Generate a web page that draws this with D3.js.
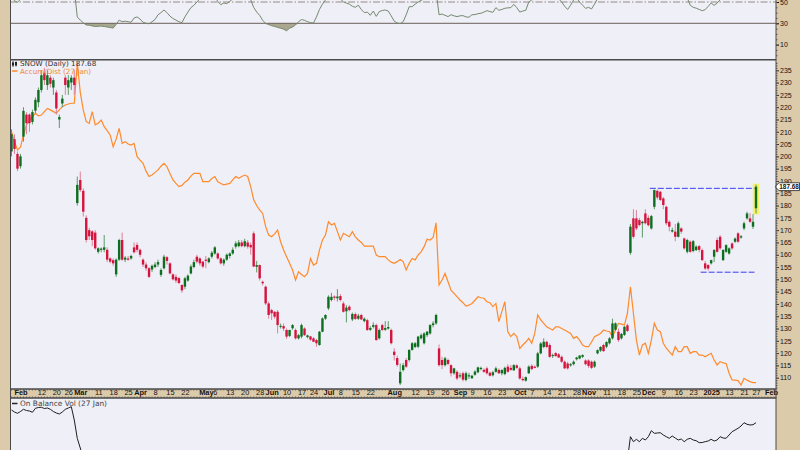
<!DOCTYPE html>
<html><head><meta charset="utf-8">
<script src="https://cdn.jsdelivr.net/npm/d3@7/dist/d3.min.js"></script>
<style>
body{margin:0;background:#fff;}
svg{display:block;font-family:"DejaVu Sans",Verdana,sans-serif;}
</style></head><body>
<svg id="chart" width="800" height="450"></svg>
<script>
// ---------------- DATA ----------------
const firstDay = "2024-01-29";
const lastAxisDay = "2025-02-10";
const holidays = ["2024-02-19","2024-03-29","2024-05-27","2024-06-19","2024-07-04","2024-09-02",
  "2024-11-28","2024-12-25","2025-01-01","2025-01-09","2025-01-20"];

// daily OHLC, one entry per trading day from 2024-01-29 to 2025-01-27
const open = [
202,207,201,196,208,217,217,214,218.6,222,
227,234,229,232,228,226,215,221.5,232,228,
230,232,181,190.4,186,175,170,169.5,169,161.2,
162,162,162,158.5,157.8,152,158,166,158,158.5,
158.5,163,164,162,158,156,154.5,154,155,156,
151.8,154.5,159,156.5,152,151,150.5,147.7,147,149.5,
152.4,155,159.2,158.5,157.2,158,157,159.2,160.5,160.5,
158.5,156.5,158,159.5,160.5,163.3,163.5,165,163.5,165,
164,168.7,155.1,155.8,149,147,140.2,137.5,136.8,136.8,
130.8,131,129.4,127,130.1,129.4,126,126.7,130,126.5,
126.8,126,125.3,123.3,128.7,134,138.2,141.6,143,142.3,
143.2,140.2,137,138.9,133.7,135.9,134,135.5,133,133.4,
129.5,130.7,131.4,126,131.4,129.5,130,129.4,120.6,118,
107.7,113.1,117.2,117.2,121.3,122.5,122.6,126,124,127.3,
128,131.4,132.1,121.9,117.2,115.1,117.2,115.1,111.8,112.4,
110.5,111.8,109.1,110.5,109.8,111.2,112.2,113.5,113.2,113.8,
112,111,112.4,113.2,111.8,111.5,114.5,114,113,115,
113.8,109.5,108.8,111.8,114.8,114.5,114.5,119.9,122.5,124.6,
123.3,118.8,120,119.5,118.5,116.5,115.8,115,115.5,117.5,
117.8,118.5,117,117,116.5,114.5,119.9,121,123.3,122.6,
124,126,129.5,128.7,126,127.4,131.3,160.8,174.8,174.8,
174.1,172.8,176.8,175,170.7,179.5,186,185.6,182.9,179.5,
173.4,169.4,169.4,167.3,170.7,166.6,161.2,165.3,161.5,161.9,
163.5,161.9,156.5,155.8,156.5,159.2,166,167.3,157.8,161.2,
160.5,164.6,165.3,168.7,167,170.7,174.8,174.8,171.4,178.9];
const high = [
211,209,202,201,220,218,217.5,219,224,228,
235,236,235,233,232,227,217,225,233,233,
233,235,191.8,193.8,187,176,171,170,170,163,
163,168,163,159,158.5,158.5,166.5,169,159.5,159.5,
160,165,165,162.5,158.5,157,155,156,157,158,
154.5,160,159.5,157,152.5,152,151,148,151,152,
156,158,160,159,157.5,159.5,159,161.5,163.5,161,
159,158.5,160.5,161,163,165.5,166,166,166.5,166,
165,169.5,157.5,156,149.5,147.5,141,138,137,137.5,
132,132,130,129.5,131.8,130,127.8,132,130.5,127.5,
127,126.5,125.8,129,134.5,135.8,143.5,144.5,143.5,146,
144,141,139.5,139.5,136.5,136.5,136,136,134.5,134,
131,132.5,132,130,132,133,133,130,122,119,
115.8,116,118,121.5,124.5,124.5,127,128,128.5,129,
131.8,133,136,123.5,118.5,118.5,117.8,115.5,114,113,
112,112.5,112.5,112,111.2,113,114.5,114.5,113.8,114.5,
112.5,112.8,114.5,113.8,113.5,114.5,115.5,115.2,115.5,115.5,
114.5,110.5,110.5,115,115.5,115,120.5,124.5,126,125,
124,119.8,120.5,120,119,117,116.5,116,117,118.5,
119.2,119.5,117.5,117.5,117,117,121.5,122.8,123.8,124.8,
126.5,134,132.5,130,128.2,131,132,172.5,178.5,178.2,
175,173.8,178.5,176,176.2,186.5,186.5,186,183.5,180,
174,171,172.5,173.5,171.2,167,166.5,165.8,166,163.8,
164,162.5,157.5,156.2,158,162.3,167,168,162.3,164.3,
163,165,167,169.2,168,173.5,177.5,177,176.5,188.5];
const low = [
200,201,194,195,206,209,210,213,217.5,220,
226,229,227,228,225,217,211.5,220,225,225,
227,225,180,185.5,175.5,165,166,163.5,162,160.5,
161,161,157,156.5,155.5,151,157.5,157.5,157,157.5,
158,160.5,161,159,155,153.5,150.5,153,154.5,155,
151,154,156,152,149.5,148.5,148,144.5,146,149,
152,154.5,156.5,155.5,154.5,154.5,156.5,158.5,160,158,
156,155.5,157.5,158.5,160,162.5,163,163,163,162.5,
160,155,152.8,149.5,147.5,139.5,134,133.5,134,128,
130,129,125.8,126.5,129.5,125.5,125.5,126,127,126,
125,124.5,122.6,123,128.5,133.5,137.5,141,141.5,141,
141,136.5,132.5,137,133,133.5,133.5,133.5,132.5,129,
129,130,125,125.5,129,129,129.5,123.5,117,114.5,
107,112.5,114,116.5,121,122,122,125.5,123.5,126.5,
127.5,130.5,131.5,114.5,113.5,114.5,115,110.5,111.2,109,
109.8,108.5,108.5,109.5,109.5,110.8,111.8,113,112,111.2,
110.5,110.5,112,111.5,111,111,112,112.8,112.8,113.5,
109.2,108.5,108.4,111.5,113,113.8,114,119.5,122,122,
118,118,118.5,118,116,113.5,113.3,114.5,115,117,
117.5,118,115,114,113.5,114,119.5,120.5,120.5,122,
123.5,125.5,129,124.5,125.5,127,128.5,160,166.6,170,
171.5,167,172.3,171.5,170.2,178.5,182.5,181.8,178.5,172,
169.5,169,165.5,167,168.5,162,160.5,160.8,161,161.5,
161,157.5,153.8,153.5,156,157,160.8,162,157.5,160.8,
160,162,164.8,164.8,166.5,170,174.3,173,170.5,176.8];
const close = [
209,203,195,200,218.5,213.5,213.5,218,223,227,
233,231,233,229.5,231,219.5,216,223.5,229,231,
232,229,188.4,186.3,177.5,166,167.5,166,162.6,162.6,
162.5,163,158,157.2,156.5,158,166,158,158.8,158,
159.5,161,162,160,156,154.5,151,155.5,156,157,
153.8,159.2,157.5,152.4,150,149.5,148.5,145.5,150.4,151.5,
155.2,157,157.2,156.5,155.2,157.5,158.5,160.8,163,158.5,
156.5,158,160,160.5,162,164.6,165,163.5,165.5,163.3,
163,155.2,155.8,150.4,148.4,140.2,135.5,136.2,134.8,131.4,
131.1,130,126.7,129.4,131.4,126,127.3,131.4,127.3,127.2,
125.5,124.6,124,128.7,134.1,135.5,142.9,142.9,142.5,143,
141.6,136.8,138.5,137.5,135.9,133.9,135.2,133.7,134,129.4,
130.2,131.4,125.3,129.4,129.4,130.2,130.6,124,119.2,115.2,
112.4,115.1,114.5,121.3,124,124,126.7,127.3,128,128.7,
131.4,132.1,135.5,115.1,115.1,117.9,115.6,111.8,113.8,109.7,
111,109.2,111.8,111,110.8,112.5,114.2,114,112.4,111.8,
110.8,112.2,113.8,111.8,113.1,114,112.4,113.2,115.1,114,
109.7,109,110.2,114.5,113.5,114,119.9,123.9,124.6,122.5,
118.5,119.2,118.8,118.2,116.5,113.8,113.8,115.5,116.5,118.2,
119,119.2,115.5,114.8,114,116.5,121.2,122.5,120.8,124.5,
126,132.1,132.1,125.3,127.8,130.7,129,171.4,167.3,170.7,
172.1,173.4,172.8,172,175.7,186.3,183.3,182.3,180.2,172.8,
171.4,170,167.3,172.8,169.4,162.6,166,161.2,165.5,163.3,
162,157.8,154.4,154.4,157.8,161.9,161.2,162.6,161.9,163.9,
162.6,162.6,166.6,165.3,167.5,172.8,176.8,173.4,173.4,187.68];

// Accumulation/Distribution overlay (in price-panel units), one per trading day
const adLine = [
210,206,202.6,203.7,208.7,212.8,214.5,216.2,217.5,216.5,
216.8,218.2,219.5,218.9,218.2,217.5,218.9,220.2,220.9,221.3,
221.6,221.6,238,226,218.9,214.1,213.4,218.2,212.8,213.5,
214.8,212.1,210.5,208.7,203.9,207,211.4,205.3,206,205,
204.6,205.3,199.9,198.5,197.2,194,191.8,192.4,193.5,194.5,
196,197.2,195.8,193,190.4,189,187.7,188.2,189.5,190.4,
192,193.1,193.1,193.1,189.7,189.7,189.7,191,191.8,189.7,
189,188.4,188.7,189,190.4,191.8,191.1,191.8,192.4,191.8,
187.7,182.3,180,178.2,176.8,171.4,168,167.3,168.5,170,
165.3,161.9,159.2,156.5,153.8,149.7,153.1,152,151.1,152.4,
158.5,155.8,156.5,161.9,166,168,173.4,172.1,172.8,169.4,
166,168.7,168,167.3,169.4,167.3,166,165,163.5,163.5,
163.5,163.5,159.9,159.2,159.2,159.2,157.9,157,156.5,157.2,
158.1,157.2,153.8,156.5,158.5,157.9,159.9,161.2,163.3,166.3,
166,167,173,147.7,149.7,152.4,149,145.6,144.3,143,
141.6,140.5,139.1,139.5,140.2,141.5,142.9,142.5,142.3,140.9,
140.5,138.9,140.2,132.8,136.9,140.9,128.7,126.7,128,126.7,
121.9,123.3,124.5,126,124,128,135.5,133.5,132.1,130.7,
130,129.4,130.7,130.7,130,129.4,128.7,128,126,126.7,
125.3,123.3,122.6,122.6,124.5,126.7,127.3,128,129.4,129,
128.7,126.7,129.4,132.1,131.8,131.4,136.2,147,136.2,125.3,
119.2,123.3,124,119.9,125.3,132.1,129.4,128.7,124,122,
120.6,119.2,122.6,120.6,120.6,122.6,122.6,119.9,120.6,120.6,
119.2,119.2,118.5,119.2,119.9,117.2,115.2,116.5,116,115.8,
111.8,109.1,109,108.8,107,109.7,109,108.4,108,108];

// RSI(14), one per trading day
const rsi = [
56,51,49.8,52.5,62,57,57,60,64,67,
70,68,70,66,67,57,55,60,64,65,
66,62,36,33,30.5,28.4,28.2,27.5,27,27.2,
27.4,27,26.5,26,25.5,29,33,31.5,32,31.5,
31,35,36,34,31,30,29.5,31.5,33.5,38,
40,42.5,40,36.8,34.5,33,31.5,30.6,36,40.6,
44.7,46.9,50,53,55,56,57,53,55,50.5,
47.5,49,48.5,50.5,53,56,58,56,58,56,
52,45,40.6,37.5,32.8,29.8,28.8,27.8,27,26.2,
25.4,24.5,23,25.4,26.5,28.5,31.5,33.5,32.8,31.5,
30.7,30.2,36,43,48,52,58,60,58,57,
53,50,49,48,46,45,47,43,40,40.5,
37.5,41.5,36.5,41,42,42.5,41.5,37,32,30.3,
29.7,31.5,38,45.6,45.6,48,50,51.5,53,55,
57,58,60,38,38.7,37.5,36.3,38.1,37,36.3,
37,37.2,36,35.7,38,38.2,39,39.4,40.5,41.9,
41,40.3,44.7,42.2,43,44.1,44.5,44.7,47.8,44.7,
40.6,41.5,42.2,50,52,53,58,62,62,58,
54,55,54,53,50,46,43,47,52,54,
50,47,44,45,43.5,48,53,56,54,57,
59,64,64,56,58,61,59,78,72,73,
73,73,72,72,74,80,77,76,73,64,
62,61,58,62,59,55,54,47,45,44.2,
43,41.8,42.8,45.9,49,46.9,49,52,55,54,
54,53,56,55,57,60,63,60,60,70];

// On Balance Volume (panel units): visible runs only (2024-01-29..2024-03-04 and 2024-11-20..2025-01-27)
const obvStart = [40,38,36.7,38.5,40.7,39.5,39,37.7,41.7,42.5,
  42.7,41.5,42,40.7,38.5,37,36,38,40.7,42,
  43.3,30,11.7,2,-8];
const obvEndFirstDay = "2024-11-20";
const obvEnd = [-10,13.3,8.3,10.7,
  8.3,11.7,10,13.3,19.3,16.7,17,17.3,15,13.3,
  11.7,14,12,10,11,8.3,10.7,11.7,10,9.3,
  7.3,7.5,8.3,9,10.7,9,10,13.3,12,11.7,
  15,18.3,20,21.7,24,27.3,25.7,25,25.3,27.3];

const priceTicks = [110,115,120,125,130,135,140,145,150,155,160,165,170,175,180,185,190,195,200,205,210,215,220,225,230,235];
const rsiTicks = [10,30,50];
const dateTickDates = ["2024-02-01","2024-02-12","2024-02-20","2024-02-26","2024-03-01","2024-03-11","2024-03-18","2024-03-25",
 "2024-04-01","2024-04-08","2024-04-15","2024-04-22","2024-05-01","2024-05-06","2024-05-13","2024-05-20","2024-05-28",
 "2024-06-03","2024-06-10","2024-06-17","2024-06-24","2024-07-01","2024-07-08","2024-07-15","2024-07-22",
 "2024-08-01","2024-08-12","2024-08-19","2024-08-26","2024-09-03","2024-09-09","2024-09-16","2024-09-23",
 "2024-10-01","2024-10-07","2024-10-14","2024-10-21","2024-10-28","2024-11-01","2024-11-11","2024-11-18","2024-11-25",
 "2024-12-02","2024-12-09","2024-12-16","2024-12-23","2025-01-02","2025-01-13","2025-01-21","2025-01-27","2025-02-03"];
const dateTickLabels = ["Feb","12","20","26","Mar","11","18","25","Apr","8","15","22","May","6","13","20","28",
 "Jun","10","17","24","Jul","8","15","22","Aug","12","19","26","Sep","9","16","23",
 "Oct","7","14","21","28","Nov","11","18","25","Dec","9","16","23","2025","13","21","27","Feb"];

const levelValues = [187.0, 152.9];
const levelFrom = ["2024-12-03","2024-12-27"];
const levelTo = ["2025-01-24","2025-01-24"];

const symbolLabel = "SNOW (Daily) 187.68";
const adLabel = "Accum/Dist (27 Jan)";
const obvLabel = "On Balance Vol (27 Jan)";
const lastPriceLabel = "187.68";

// ---------------- CALENDAR ----------------
const hset = new Set(holidays);
const days = [];
for (let d = new Date(firstDay+"T00:00:00Z"); d <= new Date(lastAxisDay+"T00:00:00Z"); d.setUTCDate(d.getUTCDate()+1)) {
  const w = d.getUTCDay(), s = d.toISOString().slice(0,10);
  if (w > 0 && w < 6 && !hset.has(s)) days.push(s);
}
const dayIdx = new Map(days.map((s,i)=>[s,i]));

// ---------------- LAYOUT ----------------
const W=800, H=450, L=10.5, R=776;
const TAN="#dccbab", BG="#efeff7", BORDER="#4a4a4a";
const svg = d3.select("#chart");
const x = d3.scaleLinear().domain([0, close.length-1]).range([11.5, 756]);
const y = d3.scaleLinear().domain([110,235]).range([377.7,70.3]);
const yr = d3.scaleLinear().domain([30,50]).range([23.3,2]);
const yo = d3.scaleLinear().domain([0,52]).range([450,398]);

svg.append("rect").attr("width",W).attr("height",H).attr("fill",TAN);
const panels = [["rsiClip",-5,59.5],["mainClip",60,389],["obvClip",398,455]];
const defs = svg.append("defs");
panels.forEach(([id,a,b])=>{
  svg.append("rect").attr("x",L).attr("y",a).attr("width",R-L).attr("height",b-a).attr("fill",BG);
  defs.append("clipPath").attr("id",id).append("rect").attr("x",L).attr("y",a).attr("width",R-L).attr("height",b-a);
});

// ---------------- RSI PANEL ----------------
const gR = svg.append("g").attr("clip-path","url(#rsiClip)");
gR.append("path").datum(rsi)
  .attr("d", d3.area().x((d,i)=>x(i)).y0(yr(30)).y1(d=>yr(Math.min(d,30))))
  .attr("fill","#aba68f");
gR.append("line").attr("x1",L).attr("x2",R).attr("y1",yr(50)).attr("y2",yr(50))
  .attr("stroke","#8e8075").attr("stroke-width",0.9).attr("stroke-dasharray","7,2,1.5,2");
gR.append("line").attr("x1",L).attr("x2",R).attr("y1",yr(30)).attr("y2",yr(30))
  .attr("stroke","#6b605a").attr("stroke-width",1);
gR.append("path").datum(rsi).attr("d", d3.line().x((d,i)=>x(i)).y(d=>yr(d)))
  .attr("fill","none").attr("stroke","#75896f").attr("stroke-width",1);

// ---------------- MAIN PANEL ----------------
const gM = svg.append("g").attr("clip-path","url(#mainClip)");
gM.append("path").datum(adLine).attr("d", d3.line().x((d,i)=>x(i)).y(d=>y(d)))
  .attr("fill","none").attr("stroke","#ff8a2a").attr("stroke-width",1.2);

// highlight of last bar
const lastK = close.length-1;
gM.append("rect").attr("x",x(lastK)-3.2).attr("width",6.4)
  .attr("y",y(high[lastK])-1).attr("height",y(low[lastK])-y(high[lastK])+2)
  .attr("fill","#f5f25a").attr("opacity",0.9);

// levels
levelValues.forEach((v,j)=>{
  gM.append("line").attr("x1",x(dayIdx.get(levelFrom[j]))-1.5).attr("x2",x(dayIdx.get(levelTo[j]))+1.5)
    .attr("y1",y(v)).attr("y2",y(v)).attr("stroke","#3c3cf0").attr("stroke-width",1)
    .attr("stroke-dasharray","6,2");
});

const GREEN="#0d6e1f", RED="#d5143e";
const candles = gM.append("g");
close.forEach((c,k)=>{
  const o=open[k], up = c>=o, col = up?GREEN:RED;
  candles.append("line").attr("x1",x(k)).attr("x2",x(k)).attr("y1",y(high[k])).attr("y2",y(low[k]))
    .attr("stroke", up?"#5c9a64":"#e0809a").attr("stroke-width",1);
  const top=y(Math.max(o,c)), bot=y(Math.min(o,c));
  candles.append("rect").attr("x",x(k)-1.2).attr("width",2.4).attr("y",top).attr("height",Math.max(1,bot-top))
    .attr("fill",col);
});

// legend
const lg = svg.append("g");
lg.append("line").attr("x1",13).attr("x2",13).attr("y1",61).attr("y2",67).attr("stroke","#222").attr("stroke-width",0.8);
lg.append("rect").attr("x",12).attr("y",62.5).attr("width",2).attr("height",3).attr("fill","#222");
lg.append("line").attr("x1",16).attr("x2",16).attr("y1",61.5).attr("y2",66.5).attr("stroke","#222").attr("stroke-width",0.8);
lg.append("rect").attr("x",15).attr("y",62).attr("width",2).attr("height",3.5).attr("fill","#222");
lg.append("text").attr("x",20).attr("y",66).attr("font-size",7.2).attr("fill","#333").text(symbolLabel);
lg.append("line").attr("x1",12).attr("x2",17.5).attr("y1",71).attr("y2",71).attr("stroke","#ff8a2a").attr("stroke-width",1.5);
lg.append("text").attr("x",20).attr("y",73.8).attr("font-size",7.2).attr("fill","#f08a38").text(adLabel);

// ---------------- OBV PANEL ----------------
const gO = svg.append("g").attr("clip-path","url(#obvClip)");
const obvLine = d3.line().x(d=>x(d[0])).y(d=>yo(d[1]));
gO.append("path").datum(obvStart.map((v,i)=>[i,v])).attr("d",obvLine)
  .attr("fill","none").attr("stroke","#1e1e1e").attr("stroke-width",1);
const obvK0 = dayIdx.get(obvEndFirstDay);
gO.append("path").datum(obvEnd.map((v,i)=>[obvK0+i,v])).attr("d",obvLine)
  .attr("fill","none").attr("stroke","#1e1e1e").attr("stroke-width",1);
svg.append("line").attr("x1",12).attr("x2",17.5).attr("y1",403.5).attr("y2",403.5).attr("stroke","#222").attr("stroke-width",1.5);
svg.append("text").attr("x",20).attr("y",406).attr("font-size",7.4).attr("fill","#444").text(obvLabel);

// ---------------- AXES ----------------
// date axis band
svg.append("rect").attr("x",L).attr("y",389).attr("width",R-L).attr("height",9).attr("fill",TAN);
const xa = svg.append("g").attr("transform","translate(0,389)")
  .call(d3.axisBottom(x).tickValues(dateTickDates.map(s=>dayIdx.get(s)))
    .tickFormat((d,i)=>dateTickLabels[i]).tickSize(0).tickPadding(1));
xa.select(".domain").remove();
xa.selectAll("text").attr("font-size",7.4).attr("fill","#111").attr("font-family","'Liberation Sans',Arial,sans-serif")
  .attr("font-weight",(d,i)=>/^[A-Z]|^\d{4}$/.test(dateTickLabels[i])?"bold":"normal")
  .attr("dy","0.7em");
const dayTicks = days.map((s,i)=>i).filter(i=>x(i)<R-1);
svg.append("g").selectAll("line.t").data(dayTicks).join("line")
  .attr("x1",d=>x(d)).attr("x2",d=>x(d)).attr("y1",389).attr("y2",390.6).attr("stroke","#555").attr("stroke-width",0.7);
svg.append("g").selectAll("line.b").data(dayTicks).join("line")
  .attr("x1",d=>x(d)).attr("x2",d=>x(d)).attr("y1",396.4).attr("y2",398).attr("stroke","#555").attr("stroke-width",0.7);

// price axis
const pa = svg.append("g").attr("transform",`translate(${R},0)`)
  .call(d3.axisRight(y).tickValues(priceTicks).tickSize(3).tickPadding(1).tickFormat(d3.format("d")));
pa.select(".domain").remove();
pa.selectAll("text").attr("font-size",7).attr("fill","#111").attr("font-family","'Liberation Sans',Arial,sans-serif");
pa.selectAll("line").attr("stroke","#333");
const pm = svg.append("g").attr("transform",`translate(${R},0)`)
  .call(d3.axisRight(y).tickValues(d3.range(106,240,1)).tickSize(1.5).tickFormat(""));
pm.select(".domain").remove(); pm.selectAll("line").attr("stroke","#555");
pm.selectAll(".tick").filter(d=>y(d)<61||y(d)>388).remove();

// rsi axis
const ra = svg.append("g").attr("transform",`translate(${R},0)`)
  .call(d3.axisRight(yr).tickValues(rsiTicks).tickSize(3).tickPadding(1));
ra.select(".domain").remove();
ra.selectAll("text").attr("font-size",7).attr("fill","#111").attr("font-family","'Liberation Sans',Arial,sans-serif");
const rm = svg.append("g").attr("transform",`translate(${R},0)`)
  .call(d3.axisRight(yr).tickValues(d3.range(0,55,5)).tickSize(1.5).tickFormat(""));
rm.select(".domain").remove(); rm.selectAll("line").attr("stroke","#555");
rm.selectAll(".tick").filter(d=>yr(d)>58).remove();

// last price tag
const yt = y(close[lastK]);
svg.append("path").attr("d",`M${R-1},${yt} L${R+3},${yt-3.9} L799.5,${yt-3.9} L799.5,${yt+3.9} L${R+3},${yt+3.9} Z`)
  .attr("fill","#fff").attr("stroke","#222").attr("stroke-width",0.8);
svg.append("text").attr("x",R+3.3).attr("y",yt+2.5).attr("font-size",6.8).attr("font-weight","bold")
  .attr("textLength",19.5).attr("lengthAdjust","spacingAndGlyphs")
  .attr("font-family","'Liberation Sans',Arial,sans-serif").attr("fill","#111").text(lastPriceLabel);

// panel borders
[[-5,59.5],[60,389],[389,398],[398,455]].forEach(([a,b])=>{
  svg.append("rect").attr("x",L).attr("y",a).attr("width",R-L).attr("height",b-a)
    .attr("fill","none").attr("stroke",BORDER).attr("stroke-width",1);
});
</script>
</body></html>
